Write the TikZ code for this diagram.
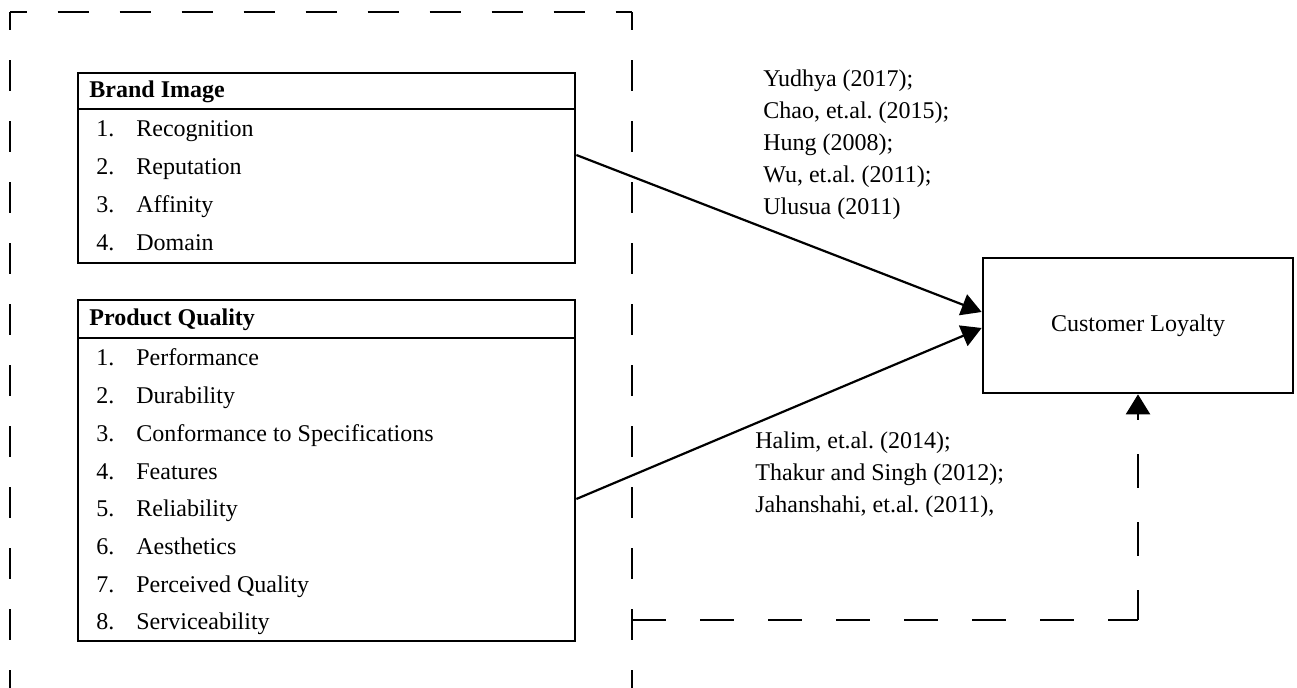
\documentclass[tikz,border=0pt]{standalone}
\usepackage{fontspec}
\setmainfont{Liberation Serif}
\usetikzlibrary{arrows.meta}
\frenchspacing
\begin{document}
\begin{tikzpicture}[x=0.5pt,y=-0.5pt,
  box/.style={draw, line width=1.35pt, inner sep=0pt},
  txt/.style={anchor=base west, inner sep=0pt, font=\fontsize{12pt}{14pt}\selectfont},
  head/.style={txt, font=\fontsize{12pt}{14pt}\selectfont\bfseries},
  link/.style={line width=1.1pt, -{Triangle[length=10pt,width=11pt]}},
  frameline/.style={line width=1.2pt},
  retline/.style={line width=1.2pt, dash pattern=on 17pt off 17pt}
]
\useasboundingbox (0,0) rectangle (1297,688);

% dashed frame around the two independent variables
\begin{scope}
  \clip (0,0) rectangle (1297,688);
  \draw[frameline, dash pattern=on 15.25pt off 15.25pt, dash phase=6.25pt] (10,12) -- (10,720);
  \draw[frameline, dash pattern=on 15.5pt off 15.5pt, dash phase=7.25pt] (10,12) -- (632,12);
  \draw[frameline, dash pattern=on 15.25pt off 15.25pt, dash phase=6.25pt] (632,12) -- (632,720);
\end{scope}

% Brand Image box
\node[box, minimum width=248.5pt, minimum height=95pt] (brand) at (326.5,168) {};
\draw[line width=1.35pt] (78,109) -- (575,109);
\node[head] (brandhead) at (89,98) {Brand Image};
\foreach \t [count=\i] in {Recognition, Reputation, Affinity, Domain} {
  \node[txt] (bnum\i) at (96,{137+37.75*(\i-1)}) {\i.};
  \node[txt] (bitem\i) at (136,{137+37.75*(\i-1)}) {\t};
}

% Product Quality box
\node[box, minimum width=248.5pt, minimum height=170.5pt] (prod) at (326.5,470.5) {};
\draw[line width=1.35pt] (78,338) -- (575,338);
\node[head] (prodhead) at (89,326) {Product Quality};
\foreach \t [count=\i] in {Performance, Durability, Conformance to Specifications, Features, Reliability, Aesthetics, Perceived Quality, Serviceability} {
  \node[txt] (pnum\i) at (96,{366+37.7*(\i-1)}) {\i.};
  \node[txt] (pitem\i) at (136,{366+37.7*(\i-1)}) {\t};
}

% Customer Loyalty box
\node[box, minimum width=155pt, minimum height=67.5pt, font=\fontsize{12pt}{14pt}\selectfont] (cl) at (1138,325.5) {Customer Loyalty};

% references for the brand image path
\foreach \t [count=\i] in {Yudhya (2017);, {Chao, et.al. (2015);}, Hung (2008);, {Wu, et.al. (2011);}, Ulusua (2011)} {
  \node[txt] (refa\i) at (763,{87+32*(\i-1)}) {\t};
}
% references for the product quality path
\foreach \t [count=\i] in {{Halim, et.al. (2014);}, Thakur and Singh (2012);, {Jahanshahi, et.al. (2011),}} {
  \node[txt] (refb\i) at (755,{449+32*(\i-1)}) {\t};
}

% connectors
\draw[link] ([yshift=6.5pt]brand.east) -- ([yshift=6.75pt]cl.west);
\draw[link] ([yshift=-14.25pt]prod.east) -- ([yshift=-1.25pt]cl.west);

\coordinate (ret) at (632,620);
\coordinate (turn) at (cl.south |- ret);
\draw[retline] (ret) -- (turn);
\draw[retline, dash phase=2pt, -{Triangle[length=10pt,width=12pt]}] (turn) -- (cl.south);
\end{tikzpicture}
\end{document}
